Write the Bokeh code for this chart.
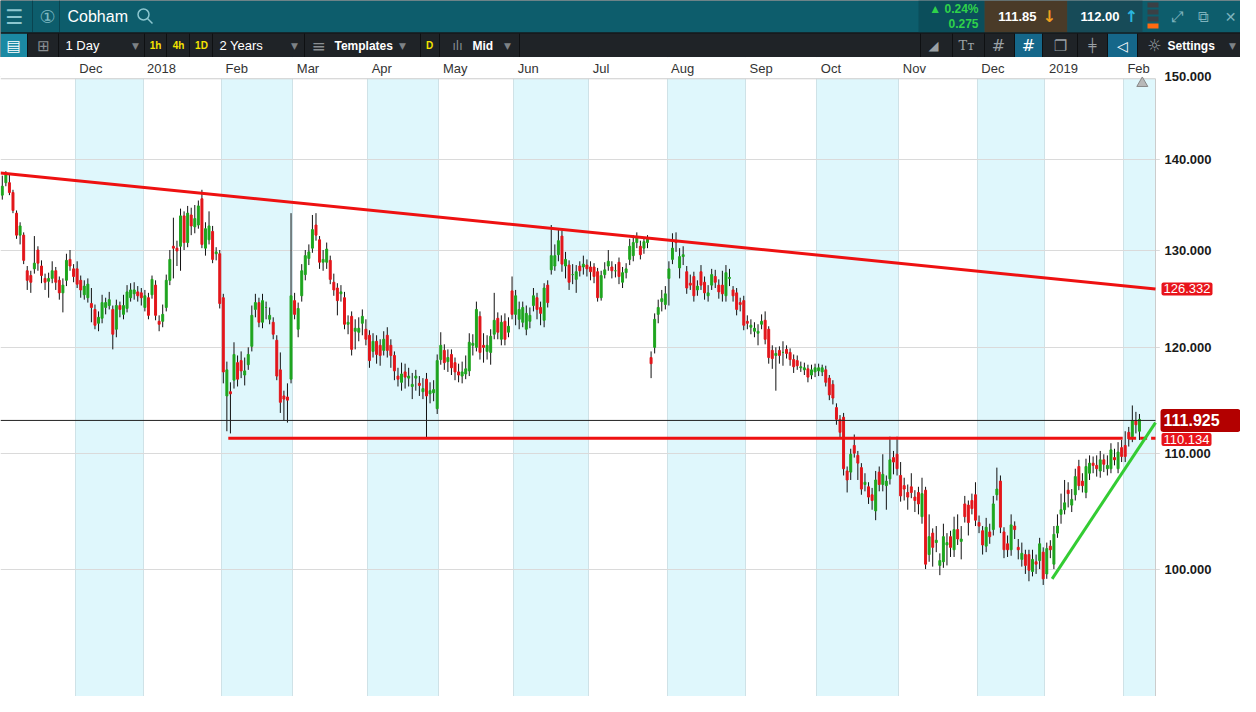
import numpy as np
from bokeh.plotting import figure
from bokeh.models import Range1d, FixedTicker, BoxAnnotation, Span, ColumnDataSource, PrintfTickFormatter
from bokeh.layouts import column
from bokeh.embed import file_html
from bokeh.resources import INLINE
from bokeh.core.properties import value

# ---------------- data (daily candles, Nov 2017 .. Feb 2019) ----------------
opens = [
    136.0,137.4,137.4,136.3,134.0,131.6,131.6,127.8,127.3,128.0,130.0,128.3,127.0,126.7,127.0,127.8,126.8,125.5,126.8,129.0,128.0,
    128.0,126.8,125.3,125.0,124.4,123.8,122.4,122.9,124.0,124.2,123.8,121.8,124.2,123.3,123.9,125.0,125.4,125.6,125.5,
    124.0,125.0,125.3,126.3,122.6,122.6,124.0,126.8,130.4,130.2,130.4,133.7,130.8,133.8,132.5,132.7,135.6,130.2,131.1,132.0,129.6,129.6,
    125.0,115.3,115.7,116.8,118.5,118.7,117.3,118.3,120.1,123.8,124.5,122.5,124.0,122.8,122.5,120.7,117.8,115.3,115.2,116.9,
    124.7,121.8,125.2,127.4,129.1,130.2,132.7,131.1,128.7,128.7,128.9,126.6,126.0,125.4,125.0,122.3,123.1,121.6,121.5,122.4,121.8,
    121.2,119.6,120.6,120.2,119.7,121.2,120.2,119.2,117.2,116.6,117.6,117.0,116.2,117.0,116.5,115.7,116.9,115.5,115.6,114.1,
    118.8,119.7,118.6,119.3,118.5,117.6,117.2,117.4,117.7,120.2,120.0,123.1,120.2,119.6,119.5,121.3,122.9,120.8,122.6,121.5,125.7,
    123.3,122.8,122.5,121.8,122.6,124.2,125.0,124.0,122.7,126.3,127.9,128.3,129.5,131.5,128.3,128.4,127.4,126.9,128.3,128.2,128.4,
    128.2,128.2,127.7,125.0,127.4,128.3,128.2,127.8,128.7,126.6,127.6,129.0,129.4,130.8,130.4,130.2,130.8,119.0,120.0,123.3,124.6,124.3,
    127.0,129.0,131.0,128.1,129.3,127.7,126.5,127.2,125.8,127.7,126.6,125.2,126.3,127.2,126.3,126.3,125.2,127.0,125.8,125.5,124.5,124.7,
    122.6,122.0,121.6,121.4,122.3,122.7,121.8,119.7,119.2,119.7,119.5,119.8,119.5,118.8,118.7,118.0,117.8,117.9,117.3,117.6,
    117.7,117.6,117.8,117.0,116.4,114.2,113.1,113.3,108.4,108.3,110.7,109.8,108.7,107.2,107.0,106.3,104.9,108.3,107.2,107.1,107.7,109.6,109.9,
    108.0,107.1,106.5,107.0,106.1,106.5,104.4,106.7,101.2,103.0,102.2,100.3,100.6,102.0,102.7,101.6,103.3,102.3,105.5,105.4,105.8,106.3,
    103.9,103.2,101.9,103.1,103.3,106.3,107.5,103.1,102.1,101.6,103.6,101.8,100.8,101.2,101.2,99.8,100.6,100.7,101.4,
    99.6,101.9,100.4,103.0,104.6,105.0,106.7,105.4,106.3,108.8,107.5,106.5,108.2,109.1,108.9,108.4,109.4,108.6,108.6,109.6,108.6,110.5,
    110.7,111.9,111.5,113.0,112.0,
]
highs = [
    138.2,138.7,138.5,136.6,134.3,133.0,131.9,128.3,127.8,131.5,130.4,128.9,127.5,127.6,128.8,128.2,127.2,127.0,129.6,130.0,128.5,
    128.8,127.3,126.8,127.0,126.0,124.3,123.6,125.3,125.0,125.6,124.2,124.8,124.6,125.3,126.3,126.5,126.6,126.2,126.0,
    125.8,125.5,127.3,126.8,123.2,124.3,127.4,130.0,133.5,131.0,134.5,134.2,134.8,134.6,134.9,135.4,136.6,133.0,134.2,132.6,130.3,130.0,
    125.4,118.6,116.6,120.5,119.2,119.6,119.0,120.0,124.2,125.4,125.0,125.4,124.6,124.0,123.0,121.2,119.5,115.8,116.5,134.0,
    125.5,124.5,128.5,130.0,130.6,133.8,134.0,131.5,130.0,130.8,129.4,127.5,126.5,126.3,125.6,123.2,123.6,122.8,123.0,123.8,122.8,
    121.7,121.4,121.2,120.8,121.6,122.0,120.8,119.6,118.0,118.5,118.4,118.0,117.5,117.8,117.2,117.0,117.5,116.6,116.8,119.3,
    121.5,120.3,119.8,119.8,119.0,118.4,118.6,119.2,121.4,121.3,124.6,123.6,121.4,121.2,121.8,125.5,123.5,123.2,123.4,123.0,127.2,
    125.8,124.6,124.6,124.2,124.0,126.0,125.5,124.6,126.5,126.8,132.7,130.6,132.2,132.1,129.8,128.9,128.5,128.4,128.8,129.4,129.0,
    128.8,128.6,128.1,127.8,128.7,130.0,128.8,128.5,129.2,128.2,128.6,131.2,131.6,131.9,131.0,131.4,131.6,119.6,123.4,124.8,125.8,126.2,
    128.8,131.8,131.9,130.2,130.4,128.3,127.4,127.7,126.8,128.4,127.2,126.3,128.0,127.9,126.9,127.8,128.4,128.0,126.2,126.0,125.0,125.2,
    123.2,122.8,122.5,122.3,123.3,123.6,122.1,120.2,120.0,120.1,120.6,120.2,119.9,119.3,119.2,118.6,118.5,118.3,118.3,118.4,
    118.4,118.3,118.2,117.3,116.8,114.6,113.5,113.7,108.8,110.4,111.7,110.2,109.1,108.2,107.4,106.9,108.4,108.8,109.9,108.0,111.5,110.2,111.5,
    109.2,107.8,107.2,108.2,106.7,107.0,107.8,107.0,104.6,103.4,103.6,101.3,103.8,103.0,103.2,104.4,104.6,103.6,106.2,105.8,106.4,107.4,
    104.5,103.6,104.3,103.8,106.2,108.7,108.0,103.5,102.8,104.6,104.0,102.5,102.2,101.6,101.6,101.6,101.2,102.6,101.8,
    102.2,102.4,103.6,104.6,106.4,107.6,107.4,106.8,108.6,109.4,108.2,109.5,109.8,109.7,109.8,110.2,109.9,109.8,110.9,110.4,111.0,111.2,
    112.0,112.4,114.4,113.8,113.6,
]
lows = [
    135.5,137.0,136.0,134.0,131.2,130.6,128.5,125.8,125.5,127.5,127.8,126.5,125.8,125.0,126.5,125.8,124.8,123.5,126.2,127.8,126.6,
    126.0,125.0,124.8,124.5,122.5,121.8,121.6,122.4,123.3,123.8,119.8,121.0,123.0,122.8,123.5,124.6,124.8,124.6,124.2,
    123.6,122.8,124.9,122.7,121.6,122.0,123.6,126.3,127.0,128.3,127.8,130.0,130.3,131.6,131.8,132.3,130.2,129.4,130.6,128.6,128.9,123.9,
    116.5,112.0,111.8,116.0,116.2,117.0,116.3,117.8,119.6,123.0,122.0,121.9,122.8,122.3,120.8,116.8,113.7,113.0,112.8,116.5,
    122.8,121.0,124.6,126.8,128.4,129.7,131.0,128.0,127.8,128.0,126.4,125.2,123.2,124.6,121.8,121.3,119.2,119.8,120.6,121.2,120.2,
    118.0,119.0,118.4,118.2,119.2,119.0,118.0,116.8,116.2,115.8,116.0,116.2,115.0,115.8,115.3,115.0,111.3,114.6,114.8,113.6,
    118.3,117.8,117.6,117.3,116.8,116.6,116.5,116.9,117.2,119.2,119.6,118.8,118.5,118.8,118.3,120.8,120.8,120.2,120.2,121.0,122.8,
    122.2,121.8,122.0,121.2,121.9,123.6,122.8,122.2,122.0,124.0,127.4,127.8,128.8,127.7,127.0,125.8,126.4,125.5,127.2,127.4,127.2,
    126.8,126.5,124.6,124.7,127.0,127.8,127.0,127.1,126.4,126.0,127.0,128.4,128.8,130.2,129.0,129.6,130.2,117.0,119.4,122.4,123.6,123.8,
    124.2,128.5,129.8,127.0,128.4,125.4,125.8,124.6,125.2,125.8,124.8,124.6,125.8,126.0,124.9,124.6,124.6,126.2,124.6,123.2,123.6,121.7,
    121.8,121.3,121.0,120.2,121.8,120.3,118.4,117.9,115.8,118.4,118.2,118.9,118.2,117.5,117.8,117.6,117.3,116.6,116.9,117.1,
    117.2,117.2,116.2,114.9,114.5,112.6,111.4,108.0,106.5,107.6,109.6,107.6,106.3,106.6,105.5,105.0,104.1,106.6,106.6,105.0,107.2,108.1,108.0,
    105.7,105.8,105.0,106.0,104.8,104.6,103.8,100.0,100.6,100.2,101.4,99.5,100.1,100.3,101.0,101.0,102.0,100.8,103.9,102.8,104.6,103.6,
    103.0,101.2,101.4,102.1,102.8,105.8,103.0,100.9,101.0,101.1,102.5,100.8,100.2,99.6,99.0,99.4,99.6,100.0,98.7,
    99.2,100.9,100.0,102.6,103.8,104.6,105.2,104.8,105.8,106.7,106.5,106.0,107.6,108.2,107.9,107.8,108.3,108.0,108.2,108.9,108.2,109.2,
    109.2,110.6,111.0,111.8,111.2,
]
closes = [
    137.0,138.3,136.3,134.3,131.6,132.6,128.9,126.8,126.6,128.6,128.6,127.3,126.6,127.0,127.8,126.6,125.5,126.3,128.9,128.3,127.2,
    126.4,125.8,126.2,126.4,124.0,122.2,123.0,124.5,124.5,124.8,121.3,124.2,123.8,124.2,125.6,125.8,125.8,125.2,125.0,
    125.2,123.2,126.9,123.2,122.3,123.3,126.8,129.0,130.2,129.9,133.7,130.8,134.0,132.6,133.4,134.8,130.6,132.3,132.6,129.0,129.8,124.4,
    117.6,117.8,115.5,119.3,116.9,117.7,117.7,119.3,123.2,124.5,122.5,124.7,124.0,123.2,121.3,117.2,114.7,115.0,114.9,125.2,
    123.3,123.9,127.8,129.4,129.8,132.2,131.6,128.7,129.0,130.1,126.9,125.8,124.7,125.6,122.3,122.5,119.8,121.9,121.9,123.1,120.8,
    118.7,120.6,119.3,119.2,120.8,119.7,119.2,117.7,116.9,117.4,117.1,117.2,116.4,117.2,116.3,116.0,115.3,115.8,115.9,118.7,
    120.2,118.5,119.0,118.0,117.6,117.3,117.6,117.9,120.5,120.4,123.8,119.5,120.0,120.2,121.1,122.7,121.5,122.5,120.8,122.1,123.3,
    125.2,123.8,124.0,123.4,123.2,125.2,123.8,123.4,126.0,124.5,129.4,129.4,131.0,128.5,129.0,126.6,127.4,127.7,127.8,128.5,128.0,
    127.7,127.2,125.0,127.3,127.9,128.8,127.8,127.8,127.2,127.6,128.0,130.4,130.8,131.4,129.5,130.9,131.2,118.4,122.8,124.0,124.9,125.4,
    128.0,130.2,130.8,129.3,129.5,126.0,126.3,125.2,126.2,126.3,125.5,125.5,127.4,126.6,125.6,125.4,127.6,127.1,125.2,123.8,124.3,122.2,
    122.4,122.2,121.9,121.6,122.6,120.8,119.0,118.9,119.4,119.2,119.5,119.4,118.8,118.1,118.2,118.1,118.0,117.1,117.8,118.0,
    118.0,118.0,116.6,115.4,115.1,113.1,111.9,108.6,107.6,109.9,110.0,109.1,106.8,107.4,106.1,105.8,107.6,107.2,108.1,107.5,109.4,109.2,108.6,
    106.2,106.8,106.1,106.5,105.8,105.5,106.4,100.4,102.7,101.8,102.4,100.7,102.7,102.2,101.8,103.3,102.5,102.5,104.4,103.9,105.1,104.1,
    103.6,102.0,103.5,102.7,105.5,106.8,103.5,101.6,101.6,103.7,103.3,101.6,101.3,100.3,99.9,100.8,100.4,102.1,99.2,
    101.7,101.6,102.9,103.6,105.0,105.6,106.4,105.9,107.9,107.1,107.1,108.8,109.1,108.9,108.6,109.4,109.0,108.9,110.3,109.4,110.1,109.7,
    109.7,111.3,113.0,112.6,113.1,
]

# trading days per month: Nov17 .. Feb19 (Feb19 partially shown)
month_days = [21, 19, 22, 20, 21, 20, 21, 21, 22, 22, 20, 23, 22, 19, 22, 5]
month_labels = ["Dec", "2018", "Feb", "Mar", "Apr", "May", "Jun", "Jul", "Aug",
                "Sep", "Oct", "Nov", "Dec", "2019", "Feb"]
empty_slots = 4

# price levels of drawings (axis units) and their tag texts
trend_top = [138.5, 125.9]          # resistance line, left end / right end
support_level = 111.35              # horizontal support
support_tag = "110.134"
trend_tag = "126.332"
last_level = 113.0                  # last price line
last_tag = "111.925"
green_line = [99.2, 112.8]          # rising trend line start / end
y_ticks = [100, 110, 120, 130, 140, 150]

# ---------------- derived ----------------
n = len(closes)
starts = [int(v) for v in np.cumsum(month_days)[:-1]]   # first index of each month from Dec17
n_slots = int(np.sum(month_days) + empty_slots)
o = np.array(opens); c = np.array(closes); h = np.array(highs); l = np.array(lows)
xs = np.arange(n) + 0.5
GREEN, RED = "#1ea51e", "#e3161b"
cols = [GREEN if cc >= oo else RED for oo, cc in zip(o, c)]
src = ColumnDataSource(dict(x=xs, top=np.maximum(o, c), bottom=np.minimum(o, c),
                            high=h, low=l, color=cols))

FONT = "Liberation Sans"
SYM = "DejaVu Sans"

# ---------------- header (app toolbars) ----------------
hdr = figure(width=1240, height=57, x_range=Range1d(8, 1248), y_range=Range1d(65, 8),
             output_backend="svg", toolbar_location=None,
             x_axis_location=None, y_axis_location=None, min_border=0)
hdr.grid.grid_line_color = None
hdr.outline_line_color = None
hdr.background_fill_color = "#1f2327"
hdr.border_fill_color = "#1f2327"


def box(l_, r_, t_, b_, col):
    hdr.quad(left=[l_], right=[r_], top=[t_], bottom=[b_], fill_color=col, line_color=None)


def txt(x, y, s, color, size, style="normal", align="left", font=FONT):
    hdr.text(x=[x], y=[y], text=[s], text_color=color, text_font=value(font),
             text_font_size=value(f"{size}px"), text_font_style=style,
             text_align=align, text_baseline="middle")


box(8, 1248, 8, 40, "#0d5d6c")
box(926, 992, 8, 40, "#0b4e5b")
box(992, 1075, 8, 40, "#4a3b28")
box(1075, 1150, 8, 40, "#174b58")
box(8, 35, 41, 65, "#1b89a3")
box(1022, 1050, 41, 65, "#15678a")
box(1115, 1145, 41, 65, "#15678a")
for yy, cc in zip([10, 17, 24, 31], ["#3a4045", "#3a4045", "#3a4045", "#ff6a10"]):
    box(1155, 1166, yy, yy + 5, cc)
hdr.segment(x0=[40, 67], y0=[8, 8], x1=[40, 67], y1=[40, 40], line_color="#0a4450", line_width=1)
seps = [35, 66, 152, 174, 197, 220, 312, 428, 447, 527, 928, 960, 992, 1022, 1050, 1085, 1115, 1145]
hdr.segment(x0=seps, y0=[41] * len(seps), x1=seps, y1=[65] * len(seps), line_color="#0e1012", line_width=1)
hdr.segment(x0=[8], y0=[40.5], x1=[1248], y1=[40.5], line_color="#101214", line_width=1)

txt(22, 24, "☰", "#8cc6cf", 20, align="center", font=SYM)
txt(55, 24, "①", "#7fb9c2", 18, align="center", font=SYM)
txt(75, 24, "Cobham", "#ffffff", 16)
hdr.scatter(x=[151], y=[22], marker="circle", size=11, fill_color=None, line_color="#8cc6cf", line_width=1.5)
hdr.segment(x0=[155], y0=[26], x1=[160], y1=[31], line_color="#8cc6cf", line_width=1.5)
txt(986, 16, "▲ 0.24%", "#2fd24a", 12, "bold", "right")
txt(986, 31, "0.275", "#2fd24a", 12, "bold", "right")
txt(1044, 24, "111.85", "#ffffff", 13, "bold", "right")
txt(1050, 24, "↓", "#f0a020", 16, "bold", "left", SYM)
txt(1127, 24, "112.00", "#ffffff", 13, "bold", "right")
txt(1132, 24, "↑", "#2ab6df", 16, "bold", "left", SYM)
txt(1184, 24, "⤢", "#7fb3bd", 15, align="center", font=SYM)
txt(1211, 24, "⧉", "#7fb3bd", 15, align="center", font=SYM)
txt(1238, 24, "✕", "#7fb3bd", 14, align="center", font=SYM)

txt(21, 53, "▤", "#ffffff", 15, align="center", font=SYM)
txt(51, 53, "⊞", "#8a8f93", 15, align="center", font=SYM)
txt(73, 53, "1 Day", "#ffffff", 13)
for xx in [143, 302, 410, 515, 1240]:
    txt(xx, 53, "▼", "#7d8286", 9, align="center", font=SYM)
txt(163, 53, "1h", "#f5e400", 10, "bold", "center")
txt(186, 53, "4h", "#f5e400", 10, "bold", "center")
txt(209, 53, "1D", "#f5e400", 10, "bold", "center")
txt(227, 53, "2 Years", "#ffffff", 13)
txt(326, 53, "≡", "#8a8f93", 17, align="center", font=SYM)
txt(342, 53, "Templates", "#ffffff", 12, "bold")
txt(437, 53, "D", "#f5e400", 10, "bold", "center")
txt(465, 53, "ılı", "#8a8f93", 12, align="center", font=SYM)
txt(480, 53, "Mid", "#ffffff", 12, "bold")
txt(941, 53, "◢", "#9aa0a5", 13, align="center", font=SYM)
txt(974, 53, "Tт", "#9aa0a5", 13, align="center", font="DejaVu Serif")
txt(1006, 53, "#", "#9aa0a5", 16, align="center", font=SYM)
txt(1036, 53, "#", "#ffffff", 16, align="center", font=SYM)
txt(1068, 53, "❐", "#9aa0a5", 15, align="center", font=SYM)
txt(1100, 53, "╪", "#9aa0a5", 13, align="center", font=SYM)
txt(1130, 53, "◁", "#ffffff", 14, align="center", font=SYM)
txt(1162, 53, "☼", "#9aa0a5", 16, align="center", font=SYM)
txt(1175, 53, "Settings", "#ffffff", 12, "bold")

# ---------------- main chart ----------------
# The frame spans the whole width; the price scale area (right 85px) lies inside it,
# so that the price tags can sit on the scale.
W = 1240
CHART_W = 1155
x_end = n_slots * W / CHART_W
p = figure(width=W, height=639, x_range=Range1d(0, x_end), y_range=Range1d(90.05, 152.3),
           y_axis_type="log", y_axis_location="right", x_axis_location=None,
           output_backend="svg", toolbar_location=None,
           min_border_left=0, min_border_top=0, min_border_bottom=0, min_border_right=0)
p.background_fill_color = "white"
p.border_fill_color = "white"
p.outline_line_color = None

yax = p.yaxis[0]
yax.ticker = FixedTicker(ticks=y_ticks)
yax.formatter = PrintfTickFormatter(format="%.3f")
yax.major_label_text_font = FONT
yax.major_label_text_font_size = "13px"
yax.major_label_text_font_style = "bold"
yax.major_label_text_color = "#1a1a1a"
yax.major_tick_in = 0
yax.major_tick_out = 0
yax.minor_tick_line_color = None
yax.major_tick_line_color = None
yax.axis_line_color = None
yax.major_label_standoff = -(W - CHART_W) + 9
p.ygrid.grid_line_color = "#dadada"
for g in p.xgrid:
    g.ticker = FixedTicker(ticks=starts)
    g.grid_line_color = "#cfe2e7"

# alternating month shading
edges = starts + [n_slots]
for k in range(0, len(starts), 2):
    p.add_layout(BoxAnnotation(left=edges[k], right=edges[k + 1], fill_color="#dff7fc",
                               fill_alpha=1.0, line_alpha=0, level="image"))

# price-scale area and month row (white)
p.quad(left=[n_slots + 1.2], right=[x_end + 1], bottom=[80], top=[170], fill_color="white", line_color=None)
row_bottom = 149.66
p.quad(left=[0], right=[x_end + 1], bottom=[row_bottom], top=[170], fill_color="white", line_color=None)
p.segment(x0=[0], y0=[row_bottom], x1=[n_slots], y1=[row_bottom], line_color="#cccccc", line_width=1)
p.segment(x0=[n_slots], y0=[85], x1=[n_slots], y1=[row_bottom], line_color="#cccccc", line_width=1)
p.text(x=starts, y=[150.95] * len(starts), text=month_labels, x_offset=4,
       text_font=value(FONT), text_font_size=value("13px"), text_color="#333333",
       text_align="left", text_baseline="middle")

# candles
p.segment(x0="x", y0="low", x1="x", y1="high", source=src, line_color="#111111", line_width=1)
p.vbar(x="x", width=0.55, top="top", bottom="bottom", source=src,
       fill_color="color", line_color="color", line_width=1)

# drawings
p.segment(x0=[0], y0=[last_level], x1=[n_slots], y1=[last_level], line_color="#222222", line_width=1)
p.segment(x0=[0], y0=[trend_top[0]], x1=[n_slots], y1=[trend_top[1]], line_color="#ee1111", line_width=3)
p.segment(x0=[63.9], y0=[support_level], x1=[314.8], y1=[support_level], line_color="#ee1111", line_width=3)
p.segment(x0=[316.6], y0=[support_level], x1=[n_slots], y1=[support_level], line_color="#ee1111",
          line_width=3, line_dash="7 4")
p.segment(x0=[295.0], y0=[green_line[0]], x1=[n_slots], y1=[green_line[1]], line_color="#33cc33", line_width=3)
p.scatter(x=[320.3], y=[149.1], marker="triangle", size=11, fill_color="#b8b8b8", line_color="#888888")

# price tags on the scale
p.text(x=[n_slots, n_slots], y=[trend_top[1], support_level - 0.1], text=[trend_tag, support_tag],
       x_offset=6, text_align="left", text_baseline="middle", text_color="white",
       text_font=value(FONT), text_font_size=value("13px"),
       background_fill_color="#e8141b", padding=2, border_radius=2)
p.text(x=[n_slots], y=[last_level], text=[last_tag + "\u00a0" * 4],
       x_offset=5, text_align="left", text_baseline="middle", text_color="white",
       text_font=value(FONT), text_font_size=value("16px"), text_font_style="bold",
       background_fill_color="#b30000", padding=3, border_radius=3)

layout = column(hdr, p, spacing=0)
open("out.html", "w").write(file_html(layout, INLINE))
